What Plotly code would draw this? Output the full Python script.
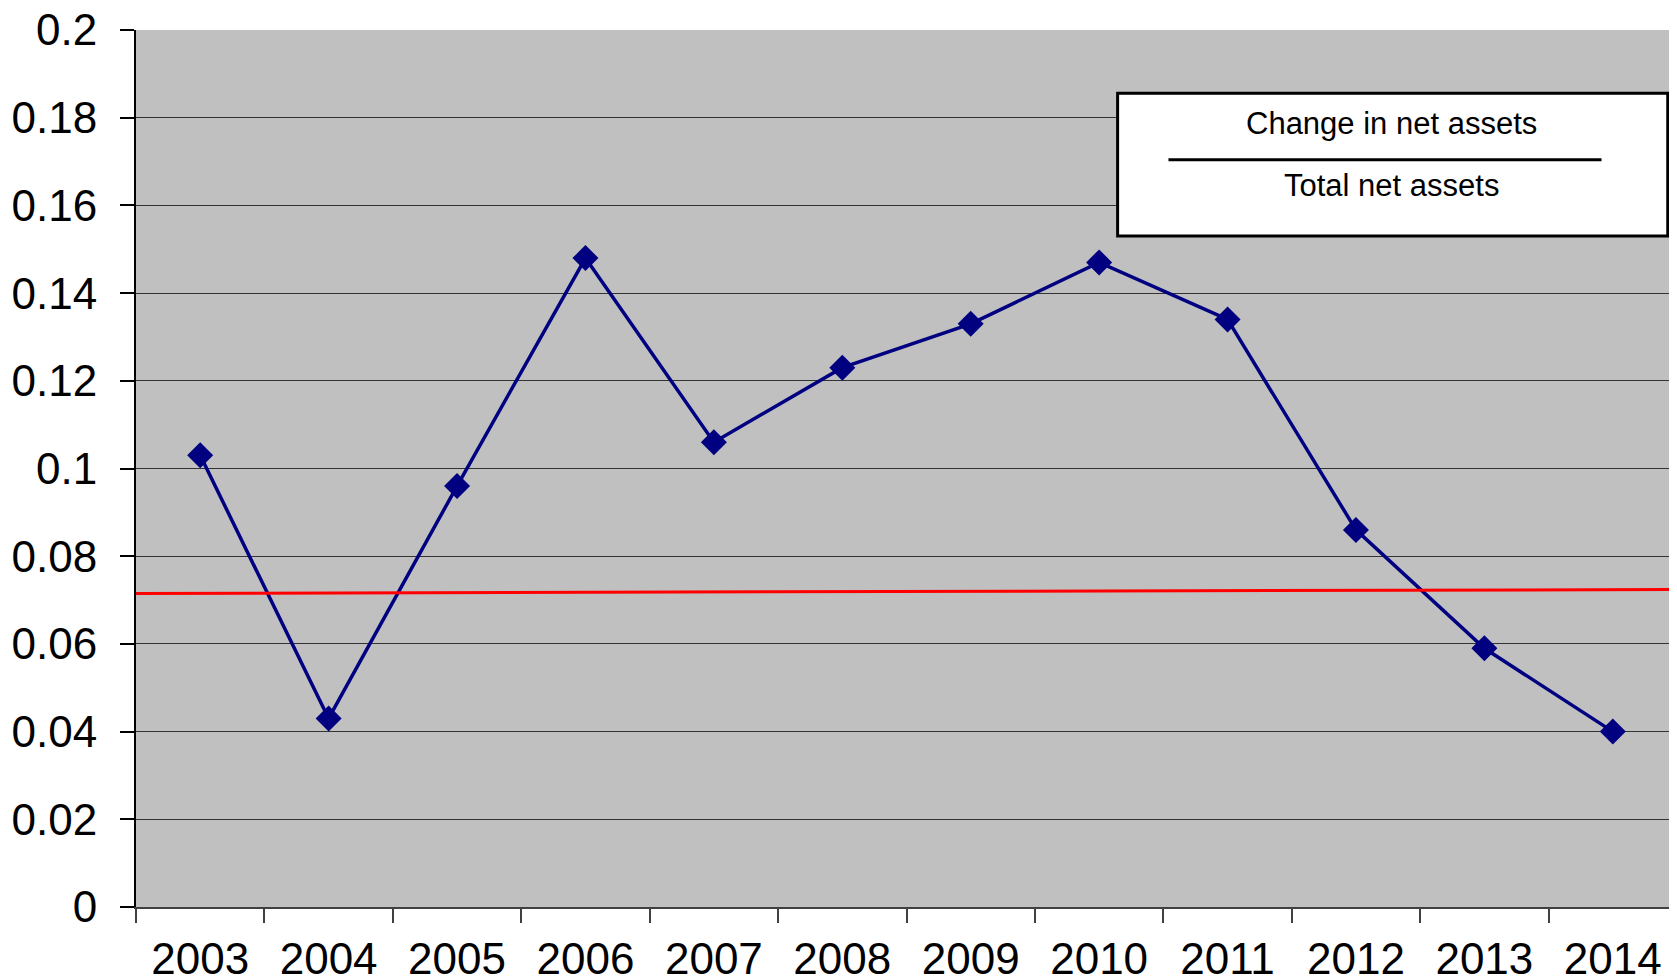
import plotly.graph_objects as go

years = ["2003", "2004", "2005", "2006", "2007", "2008", "2009", "2010", "2011", "2012", "2013", "2014"]
ratio = [0.103, 0.043, 0.096, 0.148, 0.106, 0.123, 0.133, 0.147, 0.134, 0.086, 0.059, 0.040]
reference_line = [0.0715, 0.0724]  # red line value at left and right edges
y_ticks = [0, 0.02, 0.04, 0.06, 0.08, 0.1, 0.12, 0.14, 0.16, 0.18, 0.2]
y_tick_text = ["0", "0.02", "0.04", "0.06", "0.08", "0.1", "0.12", "0.14", "0.16", "0.18", "0.2"]
legend_top = "Change in net assets"
legend_bottom = "Total net assets"

FONT = "Liberation Sans, Arial, sans-serif"

fig = go.Figure()
fig.add_trace(go.Scatter(
    x=years, y=ratio, mode="lines+markers",
    line=dict(color="#000080", width=3.5),
    marker=dict(symbol="diamond", size=20, color="#000080"),
    showlegend=False, hoverinfo="skip",
))

fig.add_shape(type="line", xref="x domain", yref="y",
              x0=0, x1=1, y0=reference_line[0], y1=reference_line[1],
              line=dict(color="#FF0000", width=3), layer="above")

# formula box
fig.add_shape(type="rect", xref="paper", yref="paper",
              x0=0.637, x1=0.994, y0=0.765, y1=0.928,
              line=dict(color="black", width=3), fillcolor="white", layer="above")
fig.add_shape(type="line", xref="paper", yref="paper",
              x0=0.670, x1=0.951, y0=0.852, y1=0.852,
              line=dict(color="black", width=3), layer="above")
fig.add_annotation(text=legend_top, xref="paper", yref="paper", x=0.815, y=0.893,
                   xanchor="center", yanchor="middle",
                   showarrow=False, font=dict(family=FONT, size=31, color="black"))
fig.add_annotation(text=legend_bottom, xref="paper", yref="paper", x=0.815, y=0.823,
                   xanchor="center", yanchor="middle",
                   showarrow=False, font=dict(family=FONT, size=31, color="black"))

fig.update_layout(
    width=1669, height=972,
    margin=dict(l=128, r=0, t=22, b=73, autoexpand=False),
    paper_bgcolor="white", plot_bgcolor="#C0C0C0",
    font=dict(family=FONT, size=44, color="black"),
    showlegend=False,
)
fig.update_xaxes(
    type="category", range=[-0.5, 11.5], tickson="boundaries", automargin=False,
    ticks="outside", ticklen=14, tickcolor="#404040", tickwidth=1.5,
    showline=True, linecolor="#404040", linewidth=2,
    showgrid=False, ticklabelstandoff=12, ticklabeloverflow="allow",
    tickfont=dict(family=FONT, size=44, color="black"),
)
fig.update_yaxes(
    range=[0, 0.2], tickvals=y_ticks, ticktext=y_tick_text, automargin=False,
    ticks="outside", ticklen=14, tickcolor="black", tickwidth=1.5,
    showline=True, linecolor="black", linewidth=2,
    showgrid=True, gridcolor="#333333", gridwidth=1,
    zeroline=False, ticklabelstandoff=14, ticklabeloverflow="allow",
    tickfont=dict(family=FONT, size=44, color="black"),
)

fig.write_html("out.html")
